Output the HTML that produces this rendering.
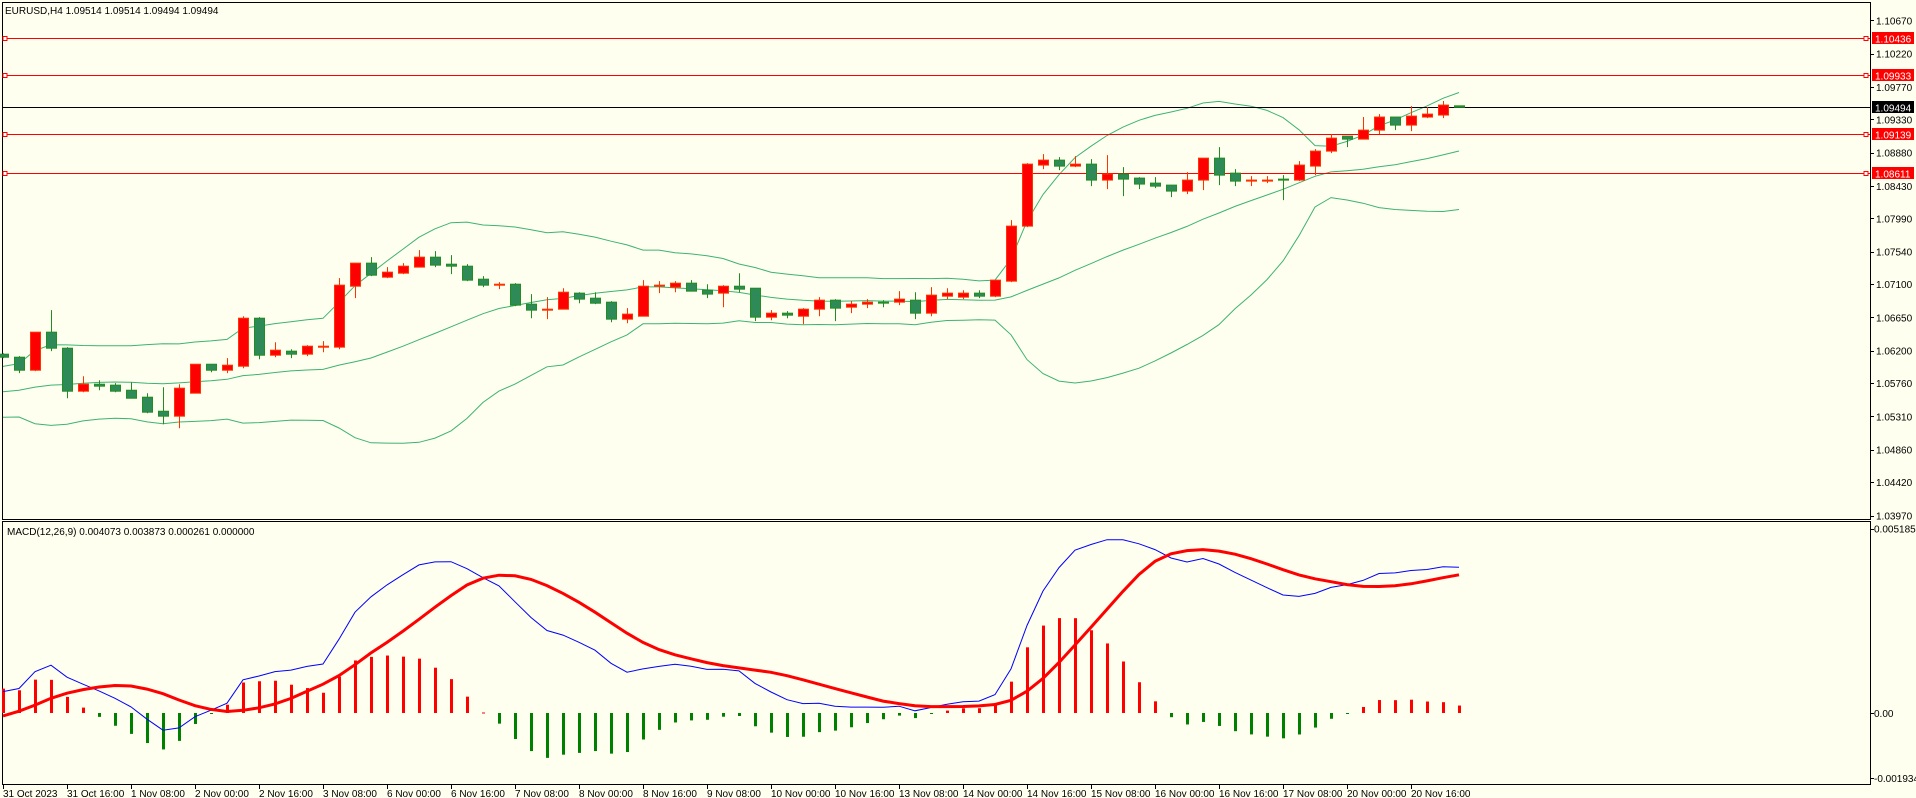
<!DOCTYPE html>
<html><head><meta charset="utf-8"><title>EURUSD H4</title>
<style>
html,body{margin:0;padding:0;background:#fffff0;}
body{width:1916px;height:798px;overflow:hidden;font-family:"Liberation Sans",sans-serif;}
svg{display:block;}
text{font-family:"Liberation Sans",sans-serif;font-size:10px;}
</style></head>
<body>
<svg id="chart" width="1916" height="798" xmlns="http://www.w3.org/2000/svg">
  <rect x="0" y="0" width="1916" height="798" fill="#fffff0"/>
  <rect x="2.5" y="2.5" width="1868" height="517" fill="none" stroke="#000" stroke-width="1"/>
  <rect x="2.5" y="521.5" width="1868" height="263" fill="none" stroke="#000" stroke-width="1"/>
  <text x="5" y="14" fill="#000">EURUSD,H4  1.09514 1.09514 1.09494 1.09494</text>
  <text x="7" y="535" fill="#000">MACD(12,26,9) 0.004073 0.003873 0.000261 0.000000</text>
  <g id="g-bands"></g>
  <g id="g-levels"></g>
  <g id="g-candles"></g>
  <g id="g-macd"></g>
  <g id="g-axes"></g>
</svg>
<script>
const dates = ["31 Oct 2023","31 Oct 16:00","1 Nov 08:00","2 Nov 00:00","2 Nov 16:00","3 Nov 08:00","6 Nov 00:00","6 Nov 16:00","7 Nov 08:00","8 Nov 00:00","8 Nov 16:00","9 Nov 08:00","10 Nov 00:00","10 Nov 16:00","13 Nov 08:00","14 Nov 00:00","14 Nov 16:00","15 Nov 08:00","16 Nov 00:00","16 Nov 16:00","17 Nov 08:00","20 Nov 00:00","20 Nov 16:00"];
const opens = [1.06153,1.06112,1.05936,1.06451,1.06234,1.05652,1.05747,1.05734,1.05665,1.05571,1.05381,1.05314,1.05625,1.06017,1.05936,1.05990,1.06640,1.06139,1.06194,1.06153,1.06248,1.06248,1.07073,1.07385,1.07195,1.07249,1.07331,1.07466,1.07371,1.07344,1.07168,1.07087,1.07100,1.06830,1.06749,1.06762,1.06979,1.06911,1.06857,1.06627,1.06667,1.07073,1.07060,1.07114,1.07019,1.06979,1.07073,1.07046,1.06654,1.06708,1.06667,1.06762,1.06884,1.06789,1.06830,1.06857,1.06857,1.06884,1.06708,1.06938,1.06925,1.06979,1.06938,1.07141,1.07886,1.08712,1.08779,1.08698,1.08725,1.08509,1.08590,1.08536,1.08468,1.08441,1.08360,1.08509,1.08806,1.08603,1.08495,1.08495,1.08522,1.08509,1.08698,1.08901,1.09104,1.09063,1.09185,1.09362,1.09253,1.09362,1.09389,1.09514];
const highs = [1.06166,1.06126,1.06451,1.06749,1.06248,1.05855,1.05801,1.05761,1.05774,1.05625,1.05706,1.05747,1.06017,1.06017,1.06099,1.06667,1.06654,1.06315,1.06220,1.06275,1.06329,1.07182,1.07385,1.07466,1.07331,1.07385,1.07561,1.07547,1.07493,1.07371,1.07209,1.07128,1.07114,1.06966,1.06925,1.07046,1.06992,1.06992,1.06871,1.06776,1.07155,1.07141,1.07141,1.07155,1.07100,1.07087,1.07249,1.07046,1.06749,1.06735,1.06776,1.06925,1.06898,1.06871,1.06898,1.06884,1.07006,1.06992,1.07060,1.07046,1.07019,1.07019,1.07155,1.07967,1.08739,1.08861,1.08820,1.08833,1.08793,1.08847,1.08685,1.08549,1.08549,1.08441,1.08617,1.08806,1.08955,1.08658,1.08563,1.08563,1.08576,1.08766,1.08928,1.09131,1.09104,1.09362,1.09402,1.09362,1.09510,1.09497,1.09579,1.09514];
const lows = [1.06099,1.05896,1.05923,1.06194,1.05557,1.05638,1.05665,1.05638,1.05557,1.05354,1.05205,1.05151,1.05625,1.05909,1.05896,1.05963,1.06085,1.06112,1.06099,1.06126,1.06180,1.06220,1.06911,1.07209,1.07182,1.07236,1.07331,1.07331,1.07236,1.07141,1.07060,1.07033,1.06803,1.06640,1.06627,1.06762,1.06843,1.06830,1.06586,1.06572,1.06667,1.06979,1.06992,1.07006,1.06911,1.06789,1.06992,1.06600,1.06613,1.06640,1.06559,1.06667,1.06600,1.06708,1.06776,1.06789,1.06817,1.06627,1.06667,1.06898,1.06898,1.06911,1.06925,1.07128,1.07872,1.08658,1.08644,1.08685,1.08427,1.08387,1.08292,1.08387,1.08400,1.08279,1.08319,1.08373,1.08441,1.08427,1.08427,1.08468,1.08238,1.08495,1.08576,1.08874,1.08955,1.09063,1.09131,1.09185,1.09172,1.09348,1.09348,1.09494];
const closes = [1.06112,1.05936,1.06451,1.06234,1.05652,1.05747,1.05720,1.05652,1.05557,1.05368,1.05314,1.05693,1.06017,1.05936,1.06004,1.06640,1.06139,1.06207,1.06153,1.06261,1.06261,1.07087,1.07385,1.07222,1.07263,1.07344,1.07466,1.07358,1.07344,1.07155,1.07087,1.07100,1.06817,1.06749,1.06762,1.06992,1.06898,1.06843,1.06627,1.06695,1.07073,1.07087,1.07114,1.07006,1.06966,1.07073,1.07033,1.06654,1.06708,1.06681,1.06762,1.06884,1.06776,1.06830,1.06857,1.06850,1.06898,1.06708,1.06952,1.06979,1.06979,1.06938,1.07155,1.07886,1.08725,1.08779,1.08698,1.08725,1.08509,1.08590,1.08522,1.08455,1.08427,1.08360,1.08509,1.08806,1.08576,1.08495,1.08509,1.08509,1.08509,1.08712,1.08901,1.09077,1.09063,1.09185,1.09362,1.09253,1.09375,1.09402,1.09524,1.09494];
const priorCloses = [1.0580,1.0573,1.0565,1.0555,1.0558,1.0570,1.0560,1.0553,1.0558,1.0570,1.0550,1.0538,1.0550,1.0555,1.0563,1.0563,1.0545,1.0548,1.0568,1.0568,1.0560,1.0565,1.0580,1.0570,1.0573,1.0600];
const priceTicks = [1.10670,1.10220,1.09770,1.09330,1.08880,1.08430,1.07990,1.07540,1.07100,1.06650,1.06200,1.05760,1.05310,1.04860,1.04420,1.03970];
const levelPrices = [1.10436,1.09933,1.09139,1.08611];
const currentPrice = 1.09494;
const macdTicks = [0.005185,0.0,-0.001934];
const macdTickLabels = ["0.005185","0.00","-0.001934"];

const NS = "http://www.w3.org/2000/svg";
function mk(parent, tag, attrs){ const e=document.createElementNS(NS,tag); for(const k in attrs) e.setAttribute(k,attrs[k]); parent.appendChild(e); return e; }
const X = i => 3 + 16*i;
const PY = p => 515.5 + (p - 1.03970) * (20.4 - 515.5) / (1.10670 - 1.03970);
const MY = v => 713 + v * (528.5 - 713) / 0.005185;

const gB=document.getElementById('g-bands'), gL=document.getElementById('g-levels'), gC=document.getElementById('g-candles'), gM=document.getElementById('g-macd'), gA=document.getElementById('g-axes');

// Bollinger bands (20,2)
const all = priorCloses.concat(closes);
const off = priorCloses.length;
let up=[], mid=[], lo=[];
for(let i=0;i<closes.length;i++){
  const k=i+off; const w=all.slice(k-19,k+1);
  const m=w.reduce((a,b)=>a+b,0)/w.length;
  const sd=Math.sqrt(w.reduce((a,b)=>a+(b-m)*(b-m),0)/w.length);
  mid.push(m); up.push(m+2*sd); lo.push(m-2*sd);
}
[[up,'bollinger-upper'],[mid,'bollinger-middle'],[lo,'bollinger-lower']].forEach(([arr,name])=>{
  const pl=mk(gB,'polyline',{points:arr.map((v,i)=>X(i)+','+PY(v).toFixed(1)).join(' '),fill:'none',stroke:'#3cb371','stroke-width':1});
  
  
});

// Levels
levelPrices.forEach(p=>{
  const y=Math.round(PY(p))+0.5;
  const ln=mk(gL,'line',{x1:3,x2:1870,y1:y,y2:y,stroke:'#ff0000','stroke-width':1});
  
  
  const s1=mk(gL,'rect',{x:3,y:y-2,width:4,height:4,fill:'#fff',stroke:'#ff0000','stroke-width':1});
  
  
  const s2=mk(gL,'rect',{x:1864,y:y-2,width:4,height:4,fill:'#fff',stroke:'#ff0000','stroke-width':1});
  
  
  const bx=mk(gA,'rect',{x:1872,y:y-6.5,width:42,height:12,fill:'#ff0000'});
  
  
  const t=mk(gA,'text',{x:1875,y:y+4,fill:'#fff'}); t.textContent=p.toFixed(5);
  
  
});
{
  const y=Math.round(PY(currentPrice))+0.5;
  const ln=mk(gL,'line',{x1:3,x2:1870,y1:y,y2:y,stroke:'#000','stroke-width':1});
  
  
  const bx=mk(gA,'rect',{x:1872,y:y-6.5,width:42,height:12,fill:'#000'});
  
  
  const t=mk(gA,'text',{x:1875,y:y+4,fill:'#fff'}); t.textContent=currentPrice.toFixed(5);
  
  
}

// Candles
for(let i=0;i<closes.length;i++){
  const o=opens[i],h=highs[i],l=lows[i],c=closes[i];
  const bull=c>=o;
  const wick=bull?'#ff3300':'#228b22';
  const x=X(i);
  const wl=mk(gC,'line',{x1:x+0.5,x2:x+0.5,y1:PY(h),y2:PY(l),stroke:wick,'stroke-width':1});
  
  
  const yt=PY(Math.max(o,c)), yb=PY(Math.min(o,c));
  const hgt=Math.max(yb-yt,1);
  const b=mk(gC,'rect',{x:x-4.5,y:yt,width:10,height:hgt,fill:bull?'#ff0000':'#2e8b57',stroke:bull?'#ff3300':'#228b22','stroke-width':1});
  
  
}

// MACD
function ema(arr,n){const k=2/(n+1);let r=[],e=arr[0];for(const v of arr){e=v*k+e*(1-k);r.push(e);}return r;}
const e12=ema(all,12), e26=ema(all,26);
const mainAll=e12.map((v,i)=>v-e26[i]);
const sigAll=mainAll.map((v,i)=>{const w=mainAll.slice(Math.max(0,i-8),i+1);return w.reduce((a,b)=>a+b,0)/w.length;});
const macdMain=mainAll.slice(off), macdSignal=sigAll.slice(off);
for(let i=0;i<macdMain.length;i++){
  const h=macdMain[i]-macdSignal[i];
  const y0=MY(0), y1=MY(h);
  const r=mk(gM,'rect',{x:X(i)-1,y:Math.min(y0,y1),width:3,height:Math.max(Math.abs(y1-y0),1),fill:h>=0?'#ff0000':'#008000'});
  
  
}
{
  const pm=mk(gM,'polyline',{points:macdMain.map((v,i)=>X(i)+','+MY(v).toFixed(1)).join(' '),fill:'none',stroke:'#0000ff','stroke-width':1});
  
  
  const ps=mk(gM,'polyline',{points:macdSignal.map((v,i)=>X(i)+','+MY(v).toFixed(1)).join(' '),fill:'none',stroke:'#ff0000','stroke-width':3});
  
  
}

// Price axis
priceTicks.forEach(p=>{
  const y=PY(p);
  const tk=mk(gA,'line',{x1:1870,x2:1874,y1:Math.round(y)+0.5,y2:Math.round(y)+0.5,stroke:'#000'});
  
  
  const t=mk(gA,'text',{x:1876,y:y+4,fill:'#000'}); t.textContent=p.toFixed(5);
  
  
});
// MACD axis
macdTicks.forEach((v,i)=>{
  const y=Math.min(MY(v),778);
  const tk=mk(gA,'line',{x1:1870,x2:1874,y1:Math.round(y)+0.5,y2:Math.round(y)+0.5,stroke:'#000'});
  
  
  const t=mk(gA,'text',{x:1874,y:y+4,fill:'#000'}); t.textContent=macdTickLabels[i];
  
  
});
// Time axis
dates.forEach((d,k)=>{
  const x=X(4*k);
  const tk=mk(gA,'line',{x1:x+0.5,x2:x+0.5,y1:785,y2:789,stroke:'#000'});
  
  
  const t=mk(gA,'text',{x:x,y:797,fill:'#000'}); t.textContent=d;
  
  
});
</script>
</body></html>
